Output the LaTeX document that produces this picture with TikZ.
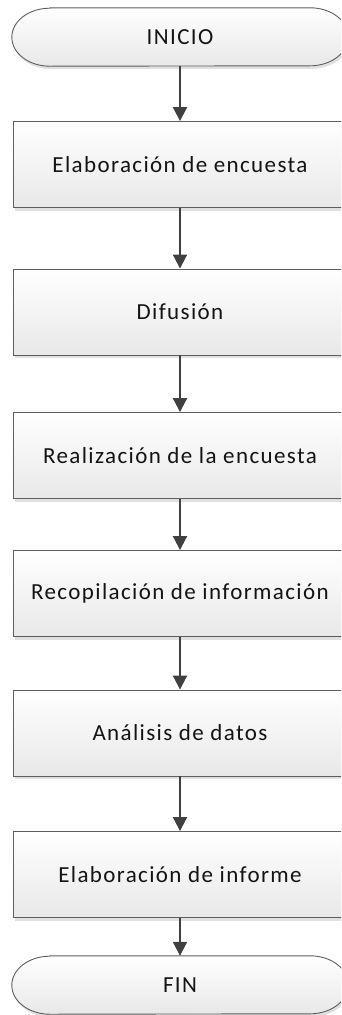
\documentclass[tikz,border=0pt]{standalone}
\usepackage{fontspec}
\setmainfont{Carlito}
\newfontfamily\flowfont[LetterSpace=6]{Carlito}
\usetikzlibrary{arrows.meta,shadows}
\definecolor{edge}{HTML}{5E5E5E}
\definecolor{arrowc}{HTML}{404040}
\definecolor{txt}{HTML}{141414}
\tikzset{
  stepbox/.style={draw=edge, line width=0.9pt, minimum width=334pt, minimum height=86pt,
    top color=white, bottom color=black!9, text=txt, font=\flowfont\fontsize{23}{27}\selectfont,
    drop shadow={shadow xshift=1.5pt, shadow yshift=-3pt, fill=black!35, opacity=0.35}},
  termnode/.style={draw=none, minimum width=336pt, minimum height=58pt, text=txt,
    font=\flowfont\fontsize{23}{27}\selectfont, inner sep=0pt},
  termshape/.style={draw=edge, line width=0.9pt, top color=white, bottom color=black!9,
    drop shadow={shadow xshift=1.5pt, shadow yshift=-3pt, fill=black!35, opacity=0.35}},
  flow/.style={draw=arrowc, line width=2pt, -{Triangle[width=14pt,length=14pt]}}
}
\newcommand{\termdraw}[1]{%
  \path[termshape] ([xshift=38pt]#1.north west) -- ([xshift=-38pt]#1.north east)
    arc[start angle=90,end angle=-90,x radius=38pt,y radius=29pt]
    -- ([xshift=38pt]#1.south west)
    arc[start angle=270,end angle=90,x radius=38pt,y radius=29pt] -- cycle;}
\begin{document}
\begin{tikzpicture}[x=1pt,y=1pt]
\useasboundingbox (0,0) rectangle (341,-1015);
\begin{scope}
\clip (0,0) rectangle (341,-1015);
\node[termnode] (t1) at (180,-37) {};
\termdraw{t1}
\node[termnode] at (t1.center) {INICIO};
\node[stepbox] (b1) at (180,-164.5) {Elaboración de encuesta};
\node[stepbox] (b2) at (180,-312) {Difusión};
\node[stepbox] (b3) at (180,-455.5) {Realización de la encuesta};
\node[stepbox] (b4) at (180,-593.5) {Recopilación de información};
\node[stepbox] (b5) at (180,-733) {Análisis de datos};
\node[stepbox] (b6) at (180,-874.5) {Elaboración de informe};
\node[termnode] (t2) at (180,-985) {};
\termdraw{t2}
\node[termnode] at (t2.center) {FIN};
\draw[flow] (t1.south) -- (b1.north);
\draw[flow] (b1.south) -- (b2.north);
\draw[flow] (b2.south) -- (b3.north);
\draw[flow] (b3.south) -- (b4.north);
\draw[flow] (b4.south) -- (b5.north);
\draw[flow] (b5.south) -- (b6.north);
\draw[flow] (b6.south) -- (t2.north);
\end{scope}
\end{tikzpicture}
\end{document}
